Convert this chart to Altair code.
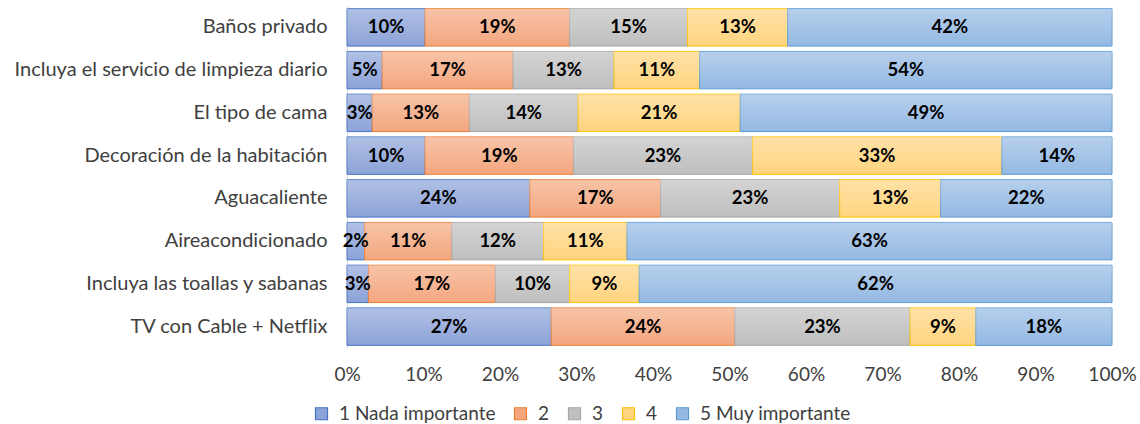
import altair as alt
import pandas as pd

# Survey: importance of each room feature (percent of respondents)
categories = [
    "Baños privado",
    "Incluya el servicio de limpieza diario",
    "El tipo de cama",
    "Decoración de la habitación",
    "Aguacaliente",
    "Aireacondicionado",
    "Incluya las toallas y sabanas",
    "TV con Cable + Netflix",
]
series = ["1 Nada importante", "2", "3", "4", "5 Muy importante"]

nada_importante = [10.2, 4.6, 3.3, 10.2, 23.9, 2.3, 2.8, 26.7]
nivel_2 = [18.9, 17.1, 12.7, 19.4, 17.1, 11.4, 16.6, 24.0]
nivel_3 = [15.4, 13.2, 14.2, 23.4, 23.4, 12.0, 9.7, 22.9]
nivel_4 = [13.1, 11.2, 21.2, 32.6, 13.2, 10.9, 9.1, 8.6]
muy_importante = [42.4, 53.9, 48.6, 14.4, 22.4, 63.4, 61.8, 17.8]

x_ticks = [0, 10, 20, 30, 40, 50, 60, 70, 80, 90, 100]

fill_colors = ["#8ca3d8", "#f4a77f", "#bfbfbf", "#ffd47e", "#94b9e3"]
stroke_colors = ["#4472c4", "#ed7d31", "#a5a5a5", "#ffc000", "#5b9bd5"]

FONT = "Lato"

rows = []
for orden, (name, vals) in enumerate(
    zip(series, [nada_importante, nivel_2, nivel_3, nivel_4, muy_importante])
):
    for cat, v in zip(categories, vals):
        rows.append({"cat": cat, "serie": name, "orden": orden, "valor": v})
df = pd.DataFrame(rows)

base = (
    alt.Chart(df)
    .transform_stack(
        stack="valor",
        groupby=["cat"],
        as_=["x0", "x1"],
        sort=[alt.SortField("orden", order="ascending")],
    )
    .transform_calculate(
        mid="(datum.x0 + datum.x1) / 2",
        etiqueta="round(datum.valor) + '%'",
    )
)

y_enc = alt.Y(
    "cat:N",
    sort=categories,
    title=None,
    scale=alt.Scale(paddingInner=0.125, paddingOuter=0.0625),
    axis=alt.Axis(
        labelFont=FONT,
        labelFontSize=20,
        labelColor="#404040",
        labelPadding=20,
        labelLimit=500,
        ticks=False,
        domain=True,
        domainColor="#d9d9d9",
        domainWidth=1,
    ),
)
x_scale = alt.Scale(domain=[0, 100], nice=False, zero=True)
x_enc = alt.X(
    "x0:Q",
    scale=x_scale,
    title=None,
    axis=alt.Axis(
        values=x_ticks,
        labelExpr="datum.value + '%'",
        labelFont=FONT,
        labelFontSize=19,
        labelColor="#404040",
        labelPadding=17,
        labelFlush=False,
        labelOverlap=False,
        ticks=False,
        domain=False,
        grid=False,
    ),
)

legend = alt.Legend(
    title=None,
    orient="none",
    direction="horizontal",
    legendX=-35,
    legendY=398,
    symbolType="square",
    symbolSize=144,
    symbolStrokeWidth=1.2,
    labelFont=FONT,
    labelFontSize=19,
    labelColor="#404040",
    labelOffset=8,
    columnPadding=15,
)

bars = base.mark_bar(strokeWidth=1).encode(
    y=y_enc,
    x=x_enc,
    x2="x1:Q",
    fill=alt.Fill(
        "serie:N",
        scale=alt.Scale(domain=series, range=fill_colors),
        legend=legend,
    ),
    stroke=alt.Stroke(
        "serie:N",
        scale=alt.Scale(domain=series, range=stroke_colors),
        legend=legend,
    ),
)

# soft vertical sheen on every segment: lighter at the top
sheen = base.mark_bar(
    fill=alt.LinearGradient(
        gradient="linear",
        stops=[
            alt.GradientStop(color="rgba(255,255,255,0.32)", offset=0),
            alt.GradientStop(color="rgba(255,255,255,0)", offset=1),
        ],
        x1=0,
        x2=0,
        y1=0,
        y2=1,
    ),
    strokeWidth=0,
).encode(y=alt.Y("cat:N", sort=categories), x=alt.X("x0:Q"), x2="x1:Q")

labels = base.mark_text(
    font=FONT, fontSize=18.5, fontWeight="bold", color="#000000"
).encode(
    y=alt.Y("cat:N", sort=categories),
    x=alt.X("mid:Q"),
    text="etiqueta:N",
)

chart = (
    alt.layer(bars, sheen, labels)
    .properties(
        width=765,
        height=342,
        autosize=alt.AutoSizeParams(type="none"),
        padding={"left": 347, "top": 6, "right": 28, "bottom": 76},
        background="white",
    )
    .configure_view(stroke=None)
)

chart.save("out.html", embed_options={"renderer": "svg", "actions": False})
